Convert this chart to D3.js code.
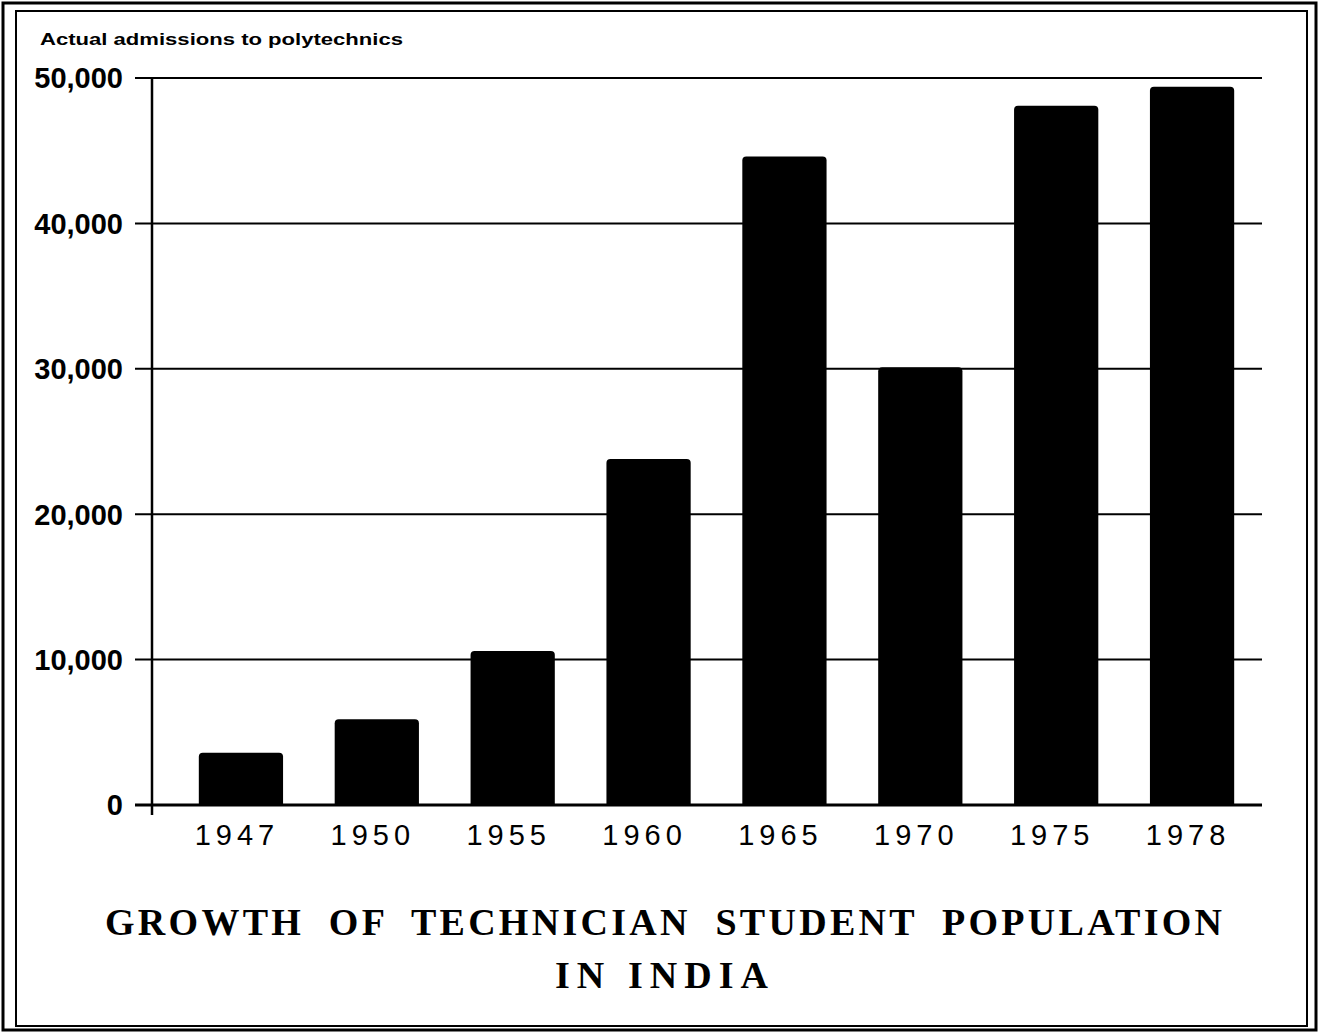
<!DOCTYPE html>
<html>
<head>
<meta charset="utf-8">
<script src="https://cdn.jsdelivr.net/npm/d3@7"></script>
<style>
  html, body { margin: 0; padding: 0; background: #fff; }
  svg { display: block; }
</style>
</head>
<body>
<div id="chart"></div>
<script>
// Data
const years = ['1947', '1950', '1955', '1960', '1965', '1970', '1975', '1978'];
const admissions = [3600, 5900, 10600, 23800, 44600, 30100, 48100, 49400];
const yTicks = [0, 10000, 20000, 30000, 40000, 50000];
const yTickLabels = ['0', '10,000', '20,000', '30,000', '40,000', '50,000'];
const axisTitle = 'Actual admissions to polytechnics';
const titleLines = ['GROWTH OF TECHNICIAN STUDENT POPULATION', 'IN INDIA'];

const W = 1321, H = 1033;

const svg = d3.select('#chart')
    .append('svg')
    .attr('width', W)
    .attr('height', H);

// Double frame round the whole figure
svg.append('rect')
    .attr('x', 3).attr('y', 3)
    .attr('width', 1313).attr('height', 1027)
    .attr('fill', 'none')
    .attr('stroke', '#000')
    .attr('stroke-width', 3);

svg.append('rect')
    .attr('x', 16).attr('y', 11)
    .attr('width', 1291).attr('height', 1015)
    .attr('fill', 'none')
    .attr('stroke', '#000')
    .attr('stroke-width', 2);

// Scales
const x = d3.scaleBand()
    .domain(years)
    .range([173, 1260])
    .paddingInner(0.38)
    .paddingOuter(0.19);

const y = d3.scaleLinear()
    .domain([0, 50000])
    .range([805, 78]);

// Horizontal grid lines
svg.append('g')
    .selectAll('line')
    .data(yTicks)
    .join('line')
    .attr('x1', 135)
    .attr('x2', 1262)
    .attr('y1', d => y(d))
    .attr('y2', d => y(d))
    .attr('stroke', '#000')
    .attr('stroke-width', d => d === 0 ? 3 : 2);

// Vertical axis line
svg.append('line')
    .attr('x1', 152).attr('x2', 152)
    .attr('y1', y(50000)).attr('y2', y(0) + 10)
    .attr('stroke', '#000')
    .attr('stroke-width', 2.5);

// Y tick labels
svg.append('g')
    .selectAll('text')
    .data(yTicks)
    .join('text')
    .attr('x', 123)
    .attr('y', d => y(d))
    .attr('dy', '0.36em')
    .attr('text-anchor', 'end')
    .attr('font-family', '"Liberation Sans", Arial, sans-serif')
    .attr('font-weight', 'bold')
    .attr('font-size', 29)
    .attr('letter-spacing', 0)
    .text((d, i) => yTickLabels[i]);

// Bars
svg.append('g')
    .selectAll('path')
    .data(admissions)
    .join('path')
    .attr('fill', '#000')
    .attr('d', (d, i) => {
        const x0 = x(years[i]);
        const w = x.bandwidth();
        const top = y(d);
        const bottom = y(0);
        const r = 4;
        return `M${x0},${bottom} L${x0},${top + r} Q${x0},${top} ${x0 + r},${top}
                L${x0 + w - r},${top} Q${x0 + w},${top} ${x0 + w},${top + r}
                L${x0 + w},${bottom} Z`;
    });

// X tick labels
svg.append('g')
    .selectAll('text')
    .data(years)
    .join('text')
    .attr('x', d => x(d) + x.bandwidth() / 2 - 4)
    .attr('y', 845)
    .attr('text-anchor', 'middle')
    .attr('font-family', '"Liberation Sans", Arial, sans-serif')
    .attr('font-size', 29)
    .attr('letter-spacing', 5)
    .text(d => d);

// Axis title at top left
svg.append('text')
    .attr('x', 40)
    .attr('y', 45)
    .attr('font-family', '"Liberation Sans", Arial, sans-serif')
    .attr('font-weight', 'bold')
    .attr('font-size', 16)
    .attr('textLength', 363)
    .attr('lengthAdjust', 'spacingAndGlyphs')
    .text(axisTitle);

// Main title
svg.append('text')
    .attr('x', 105)
    .attr('y', 935)
    .attr('font-family', '"Liberation Serif", "DejaVu Serif", serif')
    .attr('font-weight', 'bold')
    .attr('font-size', 38)
    .attr('word-spacing', 12)
    .attr('textLength', 1117)
    .attr('lengthAdjust', 'spacing')
    .text(titleLines[0]);

svg.append('text')
    .attr('x', 555)
    .attr('y', 988)
    .attr('font-family', '"Liberation Serif", "DejaVu Serif", serif')
    .attr('font-weight', 'bold')
    .attr('font-size', 38)
    .attr('textLength', 213)
    .attr('lengthAdjust', 'spacing')
    .text(titleLines[1]);
</script>
</body>
</html>
